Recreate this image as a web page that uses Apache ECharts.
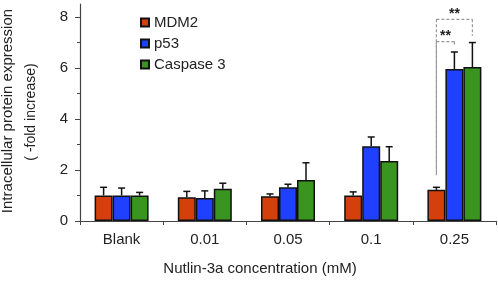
<!DOCTYPE html>
<html><head><meta charset="utf-8">
<script src="https://cdn.jsdelivr.net/npm/echarts@6/dist/echarts.min.js"></script>
<style>html,body{margin:0;padding:0;background:#fff}#c{width:498px;height:281px}</style>
</head><body><div id="c"></div>
<script>
const categories = ['Blank', '0.01', '0.05', '0.1', '0.25'];
const seriesNames = ['MDM2', 'p53', 'Caspase 3'];
const mdm2 = [1.00, 0.93, 0.97, 1.00, 1.22];
const mdm2Err = [0.32, 0.23, 0.09, 0.14, 0.10];
const p53 = [1.00, 0.90, 1.32, 2.93, 5.95];
const p53Err = [0.29, 0.28, 0.12, 0.36, 0.67];
const caspase3 = [1.00, 1.26, 1.61, 2.35, 6.03];
const caspase3Err = [0.12, 0.22, 0.67, 0.56, 0.96];
const yTicks = [0, 2, 4, 6, 8];
const yMinorTicks = [1, 3, 5, 7];
// significance brackets (category 0.25)
const sigCategory = 4;
const sigLeftBottom = 1.79;
const sigFrom = [0, 0];
const sigTo = [1, 2];
const sigTop = [7.03, 7.90];
const sigRightEnd = [6.88, 7.26];
const sigLabels = ['**', '**'];

const colors = ['#d4400c', '#2040ff', '#3a9420'];
const values = [mdm2, p53, caspase3];
const errs = [mdm2Err, p53Err, caspase3Err];
const BAR_W = 18;
const FONT = 'Liberation Sans, Arial, sans-serif';

const chart = echarts.init(document.getElementById('c'), null, {renderer: 'canvas'});

const barSeries = seriesNames.map((n, i) => ({
  name: n, type: 'bar', data: values[i], barWidth: BAR_W, barGap: '0%',
  itemStyle: {color: colors[i], borderColor: '#111', borderWidth: 1.5},
  z: 2
}));

const errSeries = seriesNames.map((n, i) => ({
  type: 'custom', z: 3, silent: true,
  data: values[i].map((v, k) => [k, v, errs[i][k]]),
  renderItem: function (params, api) {
    const k = api.value(0), v = api.value(1), e = api.value(2);
    const b = api.coord([k, v]);
    const t = api.coord([k, v + e]);
    const x = b[0] + (i - 1) * BAR_W;
    const st = {stroke: '#111', lineWidth: 1.5};
    return {type: 'group', children: [
      {type: 'line', shape: {x1: x, y1: b[1], x2: x, y2: t[1]}, style: st},
      {type: 'line', shape: {x1: x - 3.5, y1: t[1], x2: x + 3.5, y2: t[1]}, style: st}
    ]};
  }
}));

const sigSeries = {
  type: 'custom', z: 4, silent: true,
  data: sigTop.map((t, j) => [sigCategory, t, sigRightEnd[j], sigFrom[j], sigTo[j], j]),
  renderItem: function (params, api) {
    const c = api.value(0), top = api.value(1), re = api.value(2);
    const f = api.value(3), to = api.value(4), j = api.value(5);
    const cTop = api.coord([c, top]);
    const cRe = api.coord([c, re]);
    const cLb = api.coord([c, sigLeftBottom]);
    const xl = cTop[0] + (f - 1) * BAR_W;
    const xr = cTop[0] + (to - 1) * BAR_W;
    const st = {stroke: '#999', lineWidth: 1.2, lineDash: [3, 2]};
    const ch = [
      {type: 'line', shape: {x1: xl, y1: cTop[1], x2: xr, y2: cTop[1]}, style: st},
      {type: 'line', shape: {x1: xr, y1: cTop[1], x2: xr, y2: cRe[1]}, style: st},
      {type: 'line', shape: {x1: xl, y1: cTop[1], x2: xl, y2: cLb[1]}, style: st},
      {type: 'text', x: (xl + xr) / 2, y: cTop[1] - 5,
       style: {text: sigLabels[j], fill: '#222', font: 'bold 14px ' + FONT, textAlign: 'center', textVerticalAlign: 'middle'}}
    ];
    return {type: 'group', children: ch};
  }
};

chart.setOption({
  animation: false,
  backgroundColor: '#fff',
  textStyle: {fontFamily: FONT},
  grid: {left: 80, right: 2, top: 4, bottom: 54, containLabel: false},
  legend: {
    orient: 'vertical', left: 135, top: 10, itemGap: 6,
    icon: 'rect', itemWidth: 8, itemHeight: 8,
    textStyle: {fontSize: 15, color: '#222', fontFamily: FONT},
    data: seriesNames
  },
  xAxis: {
    type: 'category', data: categories,
    axisLine: {lineStyle: {color: '#444', width: 1.2}},
    axisTick: {show: true, length: 4, lineStyle: {color: '#444'}},
    axisLabel: {fontSize: 15, color: '#222', margin: 11},
    name: 'Nutlin-3a concentration (mM)', nameLocation: 'middle', nameGap: 40,
    nameTextStyle: {fontSize: 15, color: '#222', padding: [0, 56, 0, 0]}
  },
  yAxis: [{
    type: 'value', min: 0, max: 8.5,
    splitLine: {show: false},
    axisLine: {show: true, lineStyle: {color: '#444', width: 1.2}},
    axisTick: {show: true, length: 5, customValues: yTicks, lineStyle: {color: '#444'}},
    axisLabel: {fontSize: 15, color: '#222', margin: 12, customValues: yTicks}
  }, {
    type: 'value', min: 0, max: 8.5, position: 'left',
    splitLine: {show: false},
    axisLine: {show: false},
    axisTick: {show: true, length: 3, customValues: yMinorTicks, lineStyle: {color: '#444'}},
    axisLabel: {show: false}
  }],
  graphic: [
    {type: 'text', x: 8, y: 111, rotation: Math.PI / 2,
     style: {text: 'Intracellular protein expression', font: '15px ' + FONT, fill: '#222', textAlign: 'center', textVerticalAlign: 'middle'}},
    {type: 'text', x: 31, y: 112, rotation: Math.PI / 2,
     style: {text: '( -fold increase)', font: '14px ' + FONT, fill: '#222', textAlign: 'center', textVerticalAlign: 'middle'}}
  ],
  series: [...barSeries, ...errSeries, sigSeries]
});
</script>
</body></html>
